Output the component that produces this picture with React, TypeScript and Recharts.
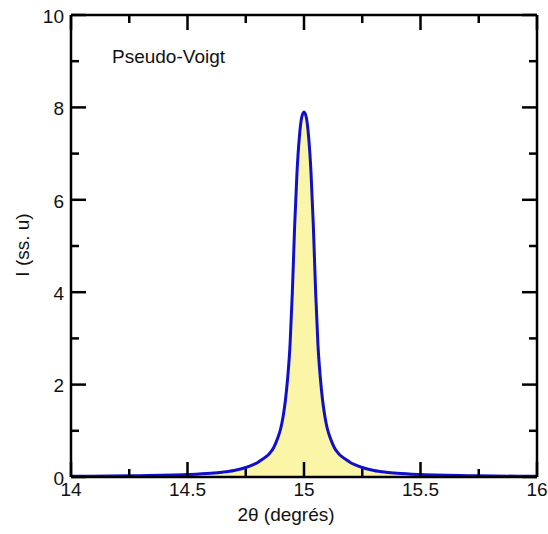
import React from "react";
import { ComposedChart, Area, XAxis, YAxis, Label, ReferenceLine } from "recharts";

// 2θ positions (degrés) and intensity
const theta = [
	14.0, 14.25, 14.5, 14.6, 14.65, 14.7, 14.75, 14.78, 14.8, 14.82, 14.84, 14.85,
	14.86, 14.87, 14.88, 14.89, 14.9, 14.91, 14.92, 14.93, 14.94, 14.95, 14.96,
	14.97, 14.98, 14.99, 15.0, 15.01, 15.02, 15.03, 15.04, 15.05, 15.06, 15.07,
	15.08, 15.09, 15.1, 15.11, 15.12, 15.13, 15.14, 15.15, 15.16, 15.18, 15.2,
	15.22, 15.25, 15.3, 15.35, 15.4, 15.5, 15.75, 16.0
];
const intensity = [
	0.015, 0.025, 0.052, 0.08, 0.105, 0.142, 0.205, 0.264, 0.31, 0.38, 0.45, 0.5,
	0.56, 0.64, 0.75, 0.88, 1.05, 1.3, 1.65, 2.15, 2.85, 4.0, 5.45, 6.6, 7.35,
	7.78, 7.9, 7.78, 7.35, 6.6, 5.45, 4.0, 2.85, 2.15, 1.65, 1.3, 1.05, 0.88,
	0.75, 0.64, 0.56, 0.5, 0.45, 0.38, 0.31, 0.264, 0.205, 0.142, 0.105, 0.08,
	0.052, 0.025, 0.015
];

const xTicks = [14, 14.25, 14.5, 14.75, 15, 15.25, 15.5, 15.75, 16];
const xMajor = [14, 14.5, 15, 15.5, 16];
const yTicks = [0, 1, 2, 3, 4, 5, 6, 7, 8, 9, 10];
const yMajor = [0, 2, 4, 6, 8, 10];

const data = theta.map((t, i) => ({ t, i: intensity[i] }));

const FONT = "'Liberation Sans', Arial, sans-serif";
const MAJOR = 15;
const MINOR = 8;

// plot box in svg pixels
const W = 548;
const H = 534;
const LEFT = 71;
const TOP = 15;
const RIGHT = 537;
const BOTTOM = 477;

// pixels per data unit, used to express tick lengths in data units
const PX_X = (RIGHT - LEFT) / 2;
const PX_Y = (BOTTOM - TOP) / 10;

const XLabel = (props: any) => {
	const { x, payload } = props;
	return (
		<text x={x} y={BOTTOM + 19} textAnchor="middle" fontSize={19} fontFamily={FONT} fill="#111">
			{String(payload.value)}
		</text>
	);
};

const YLabel = (props: any) => {
	const { y, payload } = props;
	return (
		<text x={LEFT - 7} y={y + 1} dy="0.36em" textAnchor="end" fontSize={19} fontFamily={FONT} fill="#111">
			{String(payload.value)}
		</text>
	);
};

const frame = { stroke: "#000", strokeWidth: 2.5 };
const TICK_COLOR = "#000";
const TICK_W = 2.5;

export default function App() {
	const tickMarks: React.ReactNode[] = [];
	xTicks.forEach((v, k) => {
		const len = (xMajor.includes(v) ? MAJOR : MINOR) / PX_Y;
		tickMarks.push(
			<ReferenceLine key={`xb${k}`} xAxisId="b" yAxisId="l" ifOverflow="visible" stroke={TICK_COLOR} strokeWidth={TICK_W}
				segment={[{ x: v, y: 0 }, { x: v, y: len }]} />,
			<ReferenceLine key={`xt${k}`} xAxisId="b" yAxisId="l" ifOverflow="visible" stroke={TICK_COLOR} strokeWidth={TICK_W}
				segment={[{ x: v, y: 10 }, { x: v, y: 10 - len }]} />
		);
	});
	yTicks.forEach((v, k) => {
		const len = (yMajor.includes(v) ? MAJOR : MINOR) / PX_X;
		tickMarks.push(
			<ReferenceLine key={`yl${k}`} xAxisId="b" yAxisId="l" ifOverflow="visible" stroke={TICK_COLOR} strokeWidth={TICK_W}
				segment={[{ x: 14, y: v }, { x: 14 + len, y: v }]} />,
			<ReferenceLine key={`yr${k}`} xAxisId="b" yAxisId="l" ifOverflow="visible" stroke={TICK_COLOR} strokeWidth={TICK_W}
				segment={[{ x: 16, y: v }, { x: 16 - len, y: v }]} />
		);
	});

	return (
		<div style={{ position: "absolute", left: 0, top: 0, width: W, height: H }}>
			<ComposedChart width={W} height={H} data={data} margin={{ top: 0, right: 0, bottom: 0, left: 0 }}>
				<XAxis
					xAxisId="b"
					dataKey="t"
					type="number"
					domain={[14, 16]}
					ticks={xMajor}
					interval={0}
					height={H - BOTTOM}
					tickSize={0}
					tickMargin={0}
					tickLine={false}
					axisLine={frame}
					tick={<XLabel />}
				>
					<Label
						content={() => (
							<text x={(LEFT + RIGHT) / 2 - 18} y={BOTTOM + 44} textAnchor="middle" fontSize={19} fontFamily={FONT} fill="#111">
								2θ (degrés)
							</text>
						)}
					/>
				</XAxis>
				<XAxis xAxisId="t" orientation="top" dataKey="t" type="number" domain={[14, 16]} ticks={[]}
					height={TOP} tickLine={false} tick={false} axisLine={frame} />
				<YAxis
					yAxisId="l"
					type="number"
					domain={[0, 10]}
					ticks={yMajor}
					interval={0}
					width={LEFT}
					tickSize={0}
					tickMargin={0}
					tickLine={false}
					axisLine={frame}
					tick={<YLabel />}
				>
					<Label
						content={() => {
							const cx = 29;
							const cy = (TOP + BOTTOM) / 2 - 1;
							return (
								<text x={cx} y={cy} transform={`rotate(-90 ${cx} ${cy})`} textAnchor="middle" fontSize={19} fontFamily={FONT} fill="#111">
									I (ss. u)
								</text>
							);
						}}
					/>
				</YAxis>
				<YAxis yAxisId="r" orientation="right" type="number" domain={[0, 10]} ticks={[]}
					width={W - RIGHT} tickLine={false} tick={false} axisLine={frame} />
				<Area
					xAxisId="b"
					yAxisId="l"
					type="monotone"
					dataKey="i"
					stroke="#1010cc"
					strokeWidth={3}
					fill="#fbf5a8"
					fillOpacity={1}
					isAnimationActive={false}
				/>
				{tickMarks}
			</ComposedChart>
			<svg width={300} height={80} style={{ position: "absolute", left: 0, top: 0, pointerEvents: "none" }}>
				<text x={112} y={63} fontSize={19} fontFamily={FONT} fill="#111">
					Pseudo-Voigt
				</text>
			</svg>
		</div>
	);
}
